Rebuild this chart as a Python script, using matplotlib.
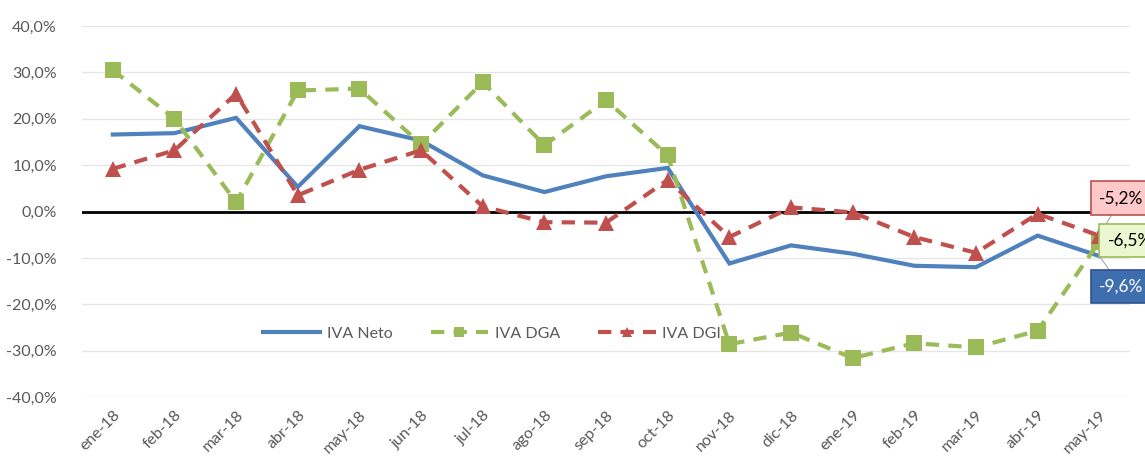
import matplotlib
matplotlib.use("Agg")
import matplotlib.pyplot as plt
import numpy as np

months = ["ene-18", "feb-18", "mar-18", "abr-18", "may-18", "jun-18", "jul-18",
          "ago-18", "sep-18", "oct-18", "nov-18", "dic-18", "ene-19", "feb-19",
          "mar-19", "abr-19", "may-19"]
iva_neto = [16.6, 16.9, 20.2, 5.3, 18.4, 15.3, 7.8, 4.2, 7.6, 9.4, -11.2,
            -7.3, -9.1, -11.7, -12.0, -5.2, -9.6]
iva_dga = [30.5, 20.0, 2.0, 26.1, 26.5, 14.5, 27.9, 14.3, 24.0, 12.1, -28.6,
           -26.1, -31.6, -28.4, -29.3, -25.7, -6.5]
iva_dgi = [9.2, 13.2, 25.4, 3.5, 9.0, 13.2, 1.1, -2.3, -2.4, 6.8, -5.5,
           0.9, -0.2, -5.5, -8.9, -0.5, -5.2]
yticks = [-40, -30, -20, -10, 0, 10, 20, 30, 40]

FONT = ["Lato", "DejaVu Sans"]
plt.rcParams["font.family"] = FONT
GREY = "#595959"
BLUE = "#4F81BD"
GREEN = "#9BBB59"
RED = "#C0504D"
FS = 11.5

fig = plt.figure(figsize=(11.45, 4.63), dpi=100)
ax = fig.add_axes([0.0716, 0.1425, 0.9154, 0.8013])

x = np.arange(len(months))
ax.set_xlim(-0.5, len(months) - 0.5)
ax.set_ylim(-40, 40)

for t in yticks:
    ax.axhline(t, color="#E6E6E6", lw=1.0, zorder=0)
ax.axhline(0, color="black", lw=2.0, zorder=1)

ax.plot(x, iva_neto, color=BLUE, lw=3.0, solid_joinstyle="miter", label="IVA Neto", zorder=3)
ax.plot(x, iva_dga, color=GREEN, lw=3.0, ls=(0, (3.2, 2.2)), marker="s", ms=11.5,
        markeredgewidth=0, label="IVA DGA", zorder=3)
ax.plot(x, iva_dgi, color=RED, lw=3.0, ls=(0, (3.2, 2.2)), marker="^", ms=11.5,
        markeredgewidth=0, label="IVA DGI", zorder=3)

for s in ax.spines.values():
    s.set_visible(False)

ax.set_yticks(yticks)
ax.set_yticklabels([f"{t:.1f}%".replace(".", ",") for t in yticks], color=GREY, fontsize=FS)
ax.set_xticks(x)
ax.set_xticklabels(months, rotation=45, ha="right", va="top", rotation_mode="anchor",
                   color=GREY, fontsize=FS)
ax.tick_params(axis="both", length=0)
ax.tick_params(axis="y", pad=18)
ax.tick_params(axis="x", pad=8)

leg = ax.legend(loc="center", bbox_to_anchor=(0.391, 0.17), ncol=3, frameon=False,
                fontsize=FS, handlelength=3.6, handletextpad=0.4, columnspacing=2.4,
                markerscale=0.6)
for t in leg.get_texts():
    t.set_color(GREY)
leg.set_zorder(2)

last = len(months) - 1
labels = [
    (iva_dgi[last], (0, 27), "#FFC9C9", RED, "black"),
    (iva_dga[last], (6, 1), "#EAF7D0", GREEN, "black"),
    (iva_neto[last], (0, -22), "#3E6EAE", "#2F528F", "white"),
]
for val, off, fc, ec, tc in labels:
    ax.annotate(f"{val:.1f}%".replace(".", ","), xy=(last, val), xytext=off,
                textcoords="offset points", ha="left", va="center", fontsize=12.5,
                color=tc, annotation_clip=False, zorder=6,
                bbox=dict(boxstyle="square,pad=0.5", fc=fc, ec=ec, lw=1.2),
                arrowprops=dict(arrowstyle="-", color="#A6A6A6", lw=0.8,
                                shrinkA=0, shrinkB=0))

fig.savefig("out.png", dpi=100)
